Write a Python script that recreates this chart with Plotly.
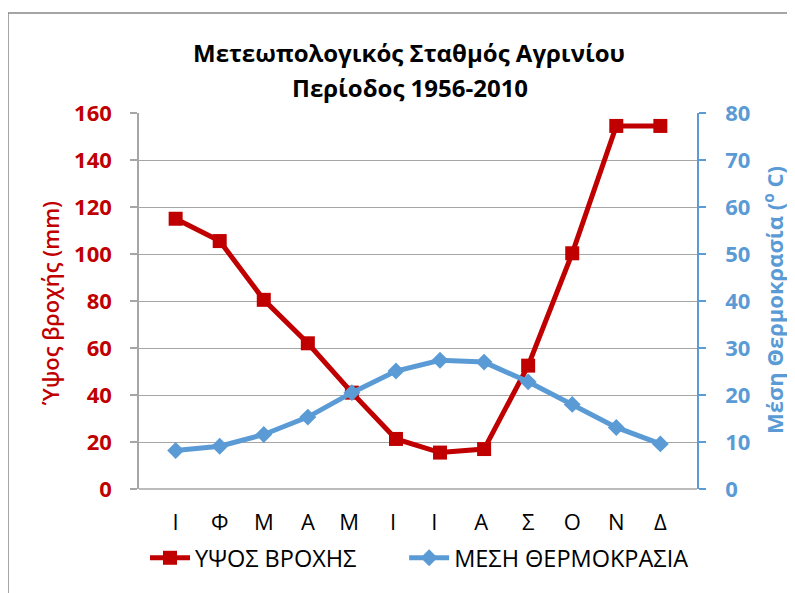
import plotly.graph_objects as go

months = ["Ι", "Φ", "Μ", "Α", "Μ ", "Ι ", "Ι  ", "Α ", "Σ", "Ο", "Ν", "Δ"]
rain_mm = [115, 105.5, 80.5, 62, 41, 21.3, 15.5, 17, 52.5, 100.3, 154.5, 154.5]
temp_c = [8.2, 9.1, 11.6, 15.3, 20.5, 25.1, 27.4, 27.0, 22.8, 18.0, 13.1, 9.6]
left_ticks = [0, 20, 40, 60, 80, 100, 120, 140, 160]
right_ticks = [0, 10, 20, 30, 40, 50, 60, 70, 80]

RED = "#C00000"
BLUE = "#5B9BD5"
GRID = "#A6A6A6"
FONT = "Open Sans, Noto Sans, sans-serif"

# page has an 8px body margin; work in screenshot pixel coords and shift
OFF = 8
W, H = 795 - OFF, 593 - OFF
L, R, T, B = 139 - OFF, 98, 113 - OFF, 104
pw, ph = W - L - R, H - T - B

def px_x(x):
    return (x - OFF - L) / pw

def px_y(y):
    return (H - B - (y - OFF)) / ph

fig = go.Figure()
fig.add_trace(go.Scatter(
    x=months, y=rain_mm, name="ΥΨΟΣ ΒΡΟΧΗΣ" + "\u00a0" * 7, mode="lines+markers",
    line=dict(color=RED, width=5),
    marker=dict(symbol="square", size=14, color=RED),
    yaxis="y",
))
fig.add_trace(go.Scatter(
    x=months, y=temp_c, name="ΜΕΣΗ ΘΕΡΜΟΚΡΑΣΙΑ", mode="lines+markers",
    line=dict(color=BLUE, width=5),
    marker=dict(symbol="diamond", size=13, color=BLUE),
    yaxis="y2",
))

fig.update_layout(
    width=W, height=H,
    margin=dict(l=L, r=R, t=T, b=B, pad=0),
    paper_bgcolor="white", plot_bgcolor="white",
    font=dict(family=FONT, color="black"),
    showlegend=True,
    legend=dict(orientation="h", x=px_x(145), xanchor="left",
                y=px_y(558), yanchor="middle",
                font=dict(size=23.5, color="black"),
                bgcolor="rgba(0,0,0,0)", itemwidth=40),
    xaxis=dict(
        type="category", showgrid=False, zeroline=False,
        showline=False, ticks="", ticklabelstandoff=18,
        tickfont=dict(size=22, color="black", family=FONT),
    ),
    yaxis=dict(
        range=[0, 160], tickvals=left_ticks, showgrid=True,
        gridcolor=GRID, gridwidth=1, zeroline=False,
        showline=True, linecolor=GRID, linewidth=1.5,
        ticks="outside", ticklen=7, tickcolor=GRID, tickwidth=1.5,
        ticklabelstandoff=14,
        tickfont=dict(size=22, color=RED, family=FONT, weight="bold"),
    ),
    yaxis2=dict(
        range=[0, 80], tickvals=right_ticks, overlaying="y", side="right",
        showgrid=False, zeroline=False,
        showline=True, linecolor=BLUE, linewidth=1.5,
        ticks="outside", ticklen=7, tickcolor=BLUE, tickwidth=1.5,
        ticklabelstandoff=15,
        tickfont=dict(size=22, color=BLUE, family=FONT, weight="bold"),
    ),
    shapes=[
        dict(type="rect", xref="paper", yref="paper",
             x0=px_x(8), x1=px_x(830), y0=px_y(640), y1=px_y(13),
             line=dict(color="#888888", width=1.5), fillcolor="rgba(0,0,0,0)",
             layer="below"),
        dict(type="line", xref="paper", yref="paper", x0=0, x1=1, y0=0, y1=0,
             line=dict(color=GRID, width=1.5), layer="below"),
    ],
    annotations=[
        dict(text="<b>Μετεωπολογικός Σταθμός Αγρινίου</b>",
             xref="paper", yref="paper", x=px_x(409), y=px_y(52),
             xanchor="center", yanchor="middle", showarrow=False,
             font=dict(size=24, color="black", family=FONT)),
        dict(text="<b>Περίοδος 1956-2010</b>",
             xref="paper", yref="paper", x=px_x(410), y=px_y(87),
             xanchor="center", yanchor="middle", showarrow=False,
             font=dict(size=24, color="black", family=FONT)),
        dict(text="Ύψος βροχής (mm)", xref="paper", yref="paper",
             x=px_x(50), y=px_y(303), xanchor="center", yanchor="middle",
             textangle=-90, showarrow=False,
             font=dict(size=22, color=RED, family=FONT, weight=600)),
        dict(text="<b>Μέση Θερμοκρασία (<sup>ο</sup> C)</b>", xref="paper", yref="paper",
             x=px_x(773), y=px_y(300), xanchor="center", yanchor="middle",
             textangle=-90, showarrow=False,
             font=dict(size=22, color=BLUE, family=FONT)),
    ],
)

fig.write_html("out.html")
